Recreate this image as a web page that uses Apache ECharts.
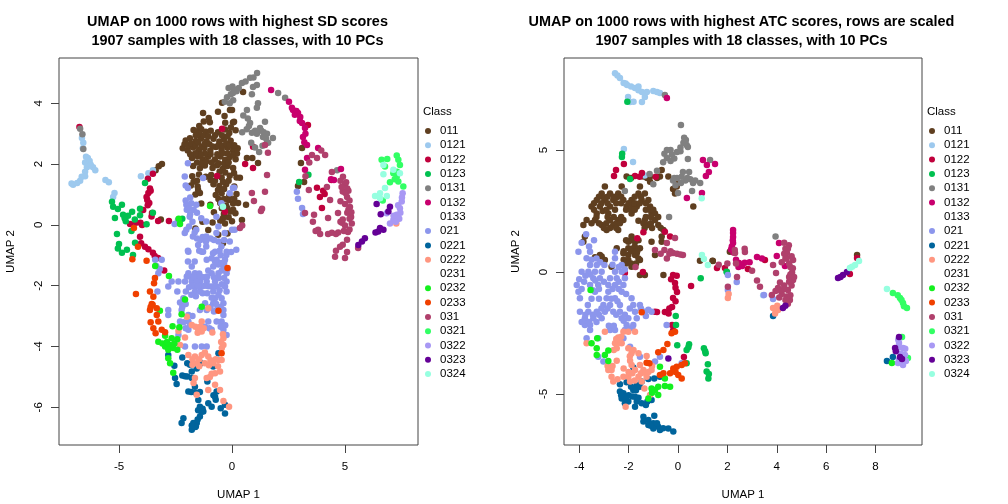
<!DOCTYPE html>
<html><head><meta charset="utf-8">
<script src="https://cdn.jsdelivr.net/npm/echarts@6/dist/echarts.min.js"></script>
<style>html,body{margin:0;padding:0;background:#fff}#c{width:1008px;height:504px}</style>
</head><body><div id="c"></div>
<script>
const classes=['011','0121','0122','0123','0131','0132','0133','021','0221','0222','0231','0232','0233','031','0321','0322','0323','0324'];
const colors=['#5F3F20','#9DC9EE','#C0003C','#00C050','#808080','#C8006E','#FFFFFF','#8C96EC','#00649C','#FF9680','#FFFFFF','#14F01E','#F04000','#B0406C','#32FF64','#A898F4','#640096','#96FFE0'];
const titleLeft='UMAP on 1000 rows with highest SD scores\n1907 samples with 18 classes, with 10 PCs';
const titleRight='UMAP on 1000 rows with highest ATC scores, rows are scaled\n1907 samples with 18 classes, with 10 PCs';
const xTicksLeft=[-5,0,5], yTicksLeft=[-6,-4,-2,0,2,4];
const xTicksRight=[-4,-2,0,2,4,6,8], yTicksRight=[-5,0,5];

const L011=[[-.44,4.02],[-.09,3.78],[-.62,3.72],[-.33,3.58],[-1.28,3.68],[-1.03,3.52],[-1.25,3.4],[-.98,3.38],[-.3,3.36],[.04,3.37],[.09,3.39],[0,3.78],[.49,4.37],
[-1.7,3.12],[-1.53,3.08],[-1.36,3.15],[-1.16,3.06],[-.94,3.1],[-.62,3.05],[-.31,3.14],[-.12,3.02],[.16,3.11],
[-2.05,2.78],[-1.86,2.85],[-1.6,2.76],[-1.37,2.84],[-1.12,2.75],[-.82,2.83],[-.56,2.74],[-.36,2.82],[-.06,2.77],
[-2.18,2.52],[-1.96,2.45],[-1.72,2.55],[-1.46,2.46],[-1.22,2.53],[-.96,2.44],[-.71,2.56],[-.46,2.47],[-.2,2.54],[.05,2.44],[.25,2.52],[.13,2.47],
[-1.77,2.2],[-1.52,2.26],[-1.3,2.16],[-1.06,2.24],[-.76,2.15],[-.52,2.25],[-.3,2.14],[-.1,2.23],[.16,2.16],[.66,2.2],[1.15,2.04],[.9,2.2],
[-1.72,1.94],[-1.42,1.86],[-1.2,1.95],[-.86,1.87],[-.66,1.96],[-.41,1.85],[-.2,1.94],[.05,1.87],[.09,1.71],
[-1.76,1.6],[-1.46,1.66],[-1.16,1.58],[-.92,1.64],[-.46,1.56],[-.1,1.62],[.2,1.56],[.35,1.55],
[-1.82,1.3],[-1.52,1.26],[-.82,1.34],[-.56,1.28],[-.26,1.34],[.1,1.26],
[-1.62,1],[-1.42,1.05],[-.72,.98],[-.46,1.04],[-.12,.96],[.2,1.02],
[-1.36,.7],[-.96,.66],[-.52,.72],[-.26,.64],[.05,.7],[.27,.72],[.62,.66],
[-.8,.42],[-.36,.36],[-.06,.44],[.15,.38],[.44,.16],
[-1.31,.1],[-.86,.08],[-.52,.14],[-.31,.05],[0,.12],[-1.62,-.12],[-1.05,-.17],
[-.61,-.32],[-.2,-.28],[-.4,-.6],[-3.24,1.93],[-3.38,1.8],[-3.52,1.7],[-3.1,2.0],[-3.15,.18],[3.1,2.53],[3.05,2.04],[2.92,1.28],[3.19,1.41],
[-2.1,2.65],[-1.95,2.62],[-1.8,2.68],[-1.62,2.62],[-1.5,2.72],[-1.35,2.58],[-1.2,2.68],[-1,2.65],[-.85,2.58],[-.6,2.62],[-.4,2.6],[-.25,2.68],[-.1,2.6],[.1,2.62],[.22,2.35],[.05,2.3],[-.2,2.35],[-.42,2.36],[-.65,2.32],[-.95,2.32],[-1.2,2.35],[-1.4,2.32],[-1.62,2.36],[-1.85,2.32],[-1.45,3],[-1.6,2.95],[-1.25,2.95],[-1.05,2.92],[-.45,2.95],[-.2,2.92],[-.05,3.2],[-.75,2.95],[-1.55,2.05],[-1.35,2.02],[-1.15,2.08],[-.9,2.05],[-.6,2.03],[-.35,2.02],[-.15,2.05],[-.55,1.75],[-.3,1.72],[-.75,1.45],[-.95,1.48],[-1.55,1.45],[-1.7,1.42],[-.4,1.42],[-.15,1.45],[-.62,1.15],[-.35,1.18],[-1.5,1.15],[-.6,.85],[-.35,.85],[-.15,.82],[.1,.85],[-.2,.55],[-.45,.55],[.05,.5],[-.15,.25],[-.4,.22],[-1.45,3.25]];
const L0121=[[-6.64,2.86],[-6.58,2.7],[-6.6,2.52],[-6.46,2.24],[-6.5,2.05],[-6.38,2.2],[-6.3,2.1],[-6.42,1.9],[-6.15,1.9],[-6.25,1.98],[-6.05,1.8],[-6.5,1.75],[-6.65,1.58],[-6.5,1.6],[-6.72,1.45],[-7.03,1.32],[-6.85,1.38],[-7.1,1.36],[-5.6,1.48],[-5.45,1.4],[-5.2,1.05],[-5.26,.92],[-4.03,1.6],[-3.7,1.7],[-3.5,1.8]];
const L0122=[[-6.75,3.22],[-3.5,1.68],[-3.72,1.52],[-3.63,1.2],[-3.7,1.05],[-3.6,1.12],[-3.78,.92],[-3.75,.82],[-3.73,.65],[-3.66,.72],[-3.93,.49],[-3.54,.39],[-3.56,.28],[-3.27,.13],[-2.79,.13],[-3.98,0],[-4.05,.07],[-4.51,.03],[-4.25,.07],[-4.07,-.39],[-4.16,-.66],[-4.02,-.6],[-3.85,-.72],[-3.7,-.8],[-3.5,-.92],[-3.27,-1.09],[-3.42,-1.02],[.93,2.57],[.58,2],[.93,1.87],[3.36,3.29],[3.76,1.22],[4.03,1.12],[3.89,.92],[3.98,.56],[-.44,3.16],[-.66,1.61],[-.31,.43],[4.1,1.02],[4.4,1.48],[-3,-1.5]];
const L0123=[[-5.31,.76],[-5.26,.6],[-4.87,.66],[-5.05,.52],[-4.42,.43],[-4.82,.33],[-5.18,.23],[-4.6,.3],[-4.7,.12],[-4.3,.18],[-4.07,.32],[-3.78,.02],[-4.07,.53],[-3.5,.4],[-5.09,-.3],[-5,-.63],[-5.05,-.78],[-4.87,-.92],[-4.65,-.82],[-4.38,-.99],[-4.29,-.59],[-3.85,1.38],[-4.45,-.2],[-4.75,.22],[3.38,1.65],[-2.2,.2],[2.97,1.41]];
const L0131=[[-6.72,3.16],[-6.62,2.98],[-6.58,2.5],[1.11,5],[.95,4.85],[.8,4.84],[.44,4.67],[.6,4.72],[.93,4.54],[1.1,4.6],[.04,4.34],[-.1,4],[.05,4.1],[-.22,4.2],[.1,4.45],[-.05,4.3],[-.32,4.05],[1.15,4],[1.1,3.85],[.66,3.78],[.5,3.6],[.8,3.35],[.7,3.5],[1.46,3.39],[1.24,3.19],[.88,3.03],[1.37,2.89],[1.1,3],[1.81,2.86],[1.6,2.7],[.45,3.05],[1.35,2.6],[.85,2.7],[1.2,2.4],[2.04,4.34],[2.35,4.18],[4.65,1.8],[1.55,3],[1.02,2.55],[.02,4.55],[.2,4.4],[-.15,4.5],[.3,4.5],[.88,4.3],[1.3,3.1],[1.5,2.85],[1.4,3.05],[1.02,3.1],[1.55,2.72],[.75,3.25],[.65,3.15]];
const L0132=[[1.73,4.44],[2.52,4.05],[2.65,3.85],[2.7,3.78],[2.92,3.68],[2.78,3.62],[3.02,3.55],[2.85,3.75],[3.1,3.35],[3.23,3.19],[3.14,2.89],[3.25,3],[3.32,2.63],[3.2,2.72],[3.81,2.53],[3.32,2.2],[3.23,1.81],[4.82,1.84],[4.51,1.48],[4.38,1.5],[3.0,3.42]];
const L021=[[-1.93,-.88],[-1.34,-.88],[-.75,-.88],[-.24,-.88],[-1.12,-1.15],[-.68,-1.15],[-.31,-1.15],[-3.4,-1.15],[-3.11,-1.15],[-1.78,-1.37],[-.83,-1.37],[-.38,-1.37],[-3.26,-1.59],[-1.93,-1.59],[-1.64,-1.59],[-.9,-1.59],[-.6,-1.59],[-.24,-1.59],[-2.67,-1.86],[-2.37,-1.86],[-2.08,-1.86],[-1.78,-1.86],[-1.42,-1.86],[-1.12,-1.86],[-.75,-1.86],[-.24,-1.86],[-2.82,-2.03],[-1.64,-2.03],[-1.34,-2.03],[-.9,-2.03],[-.68,-2.03],[-.31,-2.03],[-3.3,-2.19],[-2.42,-2.19],[-2.04,-2.19],[-1.64,-2.19],[-1.42,-2.19],[-.83,-2.19],[-.24,-2.19],[-2.15,-2.41],[-.75,-2.41],[-.46,-2.41],[-1.19,-2.58],[-.83,-2.58],[-.38,-2.58],[-2.23,-2.8],[-1.42,-2.8],[-1.12,-2.8],[-.68,-2.8],[-.38,-2.8],[-2.82,-2.8],[-2.82,-2.96],[-1.93,-2.96],[-.38,-2.96],[-2.3,-3.18],[-1.93,-3.18],[-1.05,-3.18],[-.68,-3.18],[-.46,-3.18],[-1.93,-3.45],[-.9,-3.45],[-.38,-3.45],[-.24,-3.62],[-2.37,-3.62],[-1.64,-4],[-1.34,-4],[-1.12,-4],[-2.08,-4],
[-1.95,1.21],[-2.09,1.59],[-1.28,1.54],[.04,1.21],[-.1,1.04],[-2.02,.66],[-1.8,.71],[-1.58,.66],[-1.95,2.03],[-2.05,1.3],[-2.39,.16],[-2.54,.03],[-1.87,.27],[-1.36,.22],[-1.14,.11],[-.47,.71],[-.69,.27],[-2.02,-.16],[-1.73,-.38],[-1.5,-.66],[-1.14,-.38],[-.69,-.27],[-.32,-.27],[.12,-.16],[-1.14,-.71],[-.47,-.71],[-.84,-.93],[-.25,-.99],[-1.95,-.85],[-1.28,-.88],[-2.09,-.27],[-1.58,-.16],[.19,-.82],[-2,.5],[-1.85,.9],
[2.87,1.09],[2.92,.86],[3.1,.56],[3.14,.36],[.09,1.22],[0,-.16],[-.04,-.89],[-.5,-1.25],[-1.55,-1.75],[-1.6,-2.35],[-1.1,-2.25],[-.95,-2.7],[-1.75,-3],[-1.45,-1.6],[-1.05,-1.5],[-1.9,-2.05],[-2.05,-2.6],[-.55,-2.15],[-.58,-1.75],
[-2,-1.7],[-1.85,-1.7],[-1.7,-1.72],[-1.55,-1.85],[-1.4,-1.7],[-1.25,-1.72],[-1.1,-1.7],[-1.75,-2],[-1.5,-2.02],[-1.2,-2],[-1.05,-2.02],[-1.8,-2.3],[-1.3,-2.25],[-.6,-1.3],[-.45,-1.5],[-.75,-1.2],[-.9,-1.1],[-.5,-1],[-.35,-1.75],[-.45,-1.95],[-.8,-1.72],[-.6,-2.3],[-.9,-2.4],[-.7,-2.6],[-.5,-2.7],[-.8,-2.85],[-.3,-3.3],[-.5,-3.35],[-2.15,-3.2],[-2.05,-3.4],[-1.85,-3.3],[-1.2,-3.35],[-1,-3.4],[-2.3,-2.55],[-2.2,-2.7],[-3.35,-1.35],[-3.2,-1.45],[-1.95,-1.2],[-1.65,-1.2],[-2.05,.8],[-1.9,.55],[-1.7,.5],[-1.85,.35],[-1.55,.4],[-1.75,.1],[-1.9,-.05],[-1.65,-.25],[-1.55,-.45],[-1.4,-.5],[-1.3,-.4],[-1.45,-.85],[-1.15,-.55],[-.95,-.45],[-.8,-.5],[-.6,-.55],[-.35,-.5],[-.55,-.85],[-.35,-1.25],[-.2,-1.45],[-.1,-.55],[-.6,-.05]];
const L0221=[[-2.2,-4.36],[-1.98,-4.55],[-1.86,-4.6],[-2.55,-4.63],[-2.82,-4.28],[-2.2,-4.95],[-1.98,-4.99],[-1.78,-5.04],[-2.52,-5.04],[-2.45,-5.23],[-1.78,-4.82],[-1.37,-4.55],[-1.56,-4.72],[-.6,-4.22],[-.83,-4.66],[-1.93,-5.48],[-1.64,-5.32],[-1.42,-5.5],[-1.49,-5.76],[-1.42,-5.98],[-1.27,-6.14],[-1.42,-6.3],[-1.56,-6.52],[-1.78,-6.74],[-1.71,-6.52],[-2.15,-6.36],[-2.23,-6.52],[-.75,-5.65],[-.68,-5.48],[-1.05,-5.87],[-.9,-5.98],[-.31,-5.92],[-.5,-6.03],[-.31,-6.2],[-1.09,-5.15],[-1.3,-6.05],[-1.6,-6.62],[-1.52,-6.4],[-1.6,-5.52],[-2.08,-4.98],[-1.8,-5.5],[-1.35,-6.15],[-1.5,-6.1],[-1.62,-6.65],[-1.78,-6.6],[-.72,-5.75],[-.82,-5.6]];
const L0222=[[-1.05,-2.74],[-2,-3.02],[-1.78,-3.29],[-1.49,-3.45],[-1.34,-3.18],[-1.62,-3.35],[-1.4,-3.35],[-2.37,-3.49],[-2.08,-3.7],[-1.34,-3.51],[-.38,-3.73],[-.48,-3.85],[-.38,-3.95],[-2.3,-3.95],[-1.93,-4.28],[-1.64,-4.33],[-1.34,-4.28],[-1.05,-4.33],[-1.2,-4.2],[-1.56,-4.55],[-.83,-4.55],[-.6,-4.44],[-.46,-4.44],[-.75,-4.88],[-1.12,-5.04],[-1.64,-5.04],[-.75,-5.26],[-.53,-5.43],[-1.05,-5.43],[-1.56,-5.59],[-.38,-5.79],[-.13,-5.98],[-.53,-4.82],[-.87,-3.54],[-.9,-4.9],[-1.2,-4.55],[-1.02,-4.62],[-.45,-4.05],[-.98,-5],[-.72,-4.42],[-1.7,-5.2],[7.27,.05],[-1.75,-4.42],[-1.45,-4.42],[-.95,-4.45],[-.4,-3.6],[-1.25,-3.4],[-1.52,-3.55],[-1.75,-4.6],[-1.45,-4.65],[-.62,-4.65]];
const L0232=[[-3.4,-1.35],[-2.79,-1.68],[-2.08,-2.45],[-1.34,-2.69],[-3.19,-2.82],[-2.23,-2.94],[-2.63,-3.33],[-2.33,-3.37],[-3.26,-3.84],[-2.96,-3.65],[-2.67,-3.73],[-2.42,-3.76],[-2.96,-4],[-2.74,-3.95],[-2.55,-3.9],[-2.82,-4.11],[-2.42,-4.11],[-2.82,-4.39],[-2.74,-4.55],[-2.6,-4.86],[-3.08,-3.9],[-2.88,-3.85],[-2.6,-4.05],[-.97,.62],[-2.3,.03],[-2.36,.2]];
const L0233=[[-4.41,-1.13],[-3.78,-1.18],[-3.41,-1.75],[-3.45,-1.92],[-4.25,-2.27],[-3.63,-2.19],[-3.48,-2.36],[-3.51,-2.63],[-3.63,-2.8],[-3.33,-2.74],[-3.33,-2.96],[-3.26,-3.18],[-3.6,-3.2],[-3.48,-3.4],[-3.11,-3.45],[-2.96,-3.53],[-3.38,-3.56],[-.46,-4.22],[-.2,-1.42],[-.6,-2.82],[-4.34,-.1],[-4.16,-.72],[-3.55,-2.6],[-3.6,-2.7]];
const L031=[[3.54,2.3],[3.76,2.2],[4.12,2.3],[3.95,2.45],[3.42,2.05],[4.91,1.58],[5,1.32],[4.8,1.45],[5.09,.92],[5.22,.59],[5.27,.26],[5.13,-.23],[4.87,.07],[4.42,-.26],[3.81,-.16],[3.58,.1],[3.23,.39],[3.63,.33],[4.25,.23],[4.69,.39],[4.42,1.74],[4.2,1.25],[4.34,.82],[4.8,.78],[5,.69],[4.78,-.72],[5.09,-.89],[5.09,-.49],[5.58,-.76],[5,-1.09],[4.56,-1.05],[5.15,1.12],[5.1,.4],[5.3,.05],[5.2,-.15],[4.95,-.2],[4.6,-.3],[4.9,.18],[1.59,2.37],[1.46,2.63],[1.55,1.64],[1.46,1.09],[.88,1.05],[.97,.79],[1.33,.53],[1.28,.46],[.35,-.1],[.45,-.02],[4.9,1.1],[5.05,1.4],[3.25,1.6],[3.4,1.15],[4.85,1.25],[5.1,1.2],[5.02,1.05],[5.2,.8],[5.15,.5],[5.28,.42],[5.2,.2],[4.8,.1],[4.7,-.25],[5,-.02],[4.9,-.65],[4.6,-.85],[4.25,-.3],[3.7,-.2],[3.9,-.3]];
const L0321=[[6.62,2.14],[6.87,2.17],[6.77,1.92],[7.29,2.28],[7.36,2.14],[7.43,1.97],[7.14,1.7],[7.29,1.59],[7.36,1.43],[6.99,1.4],[7.58,1.26],[6.67,.8],[7.2,1.5],[7.3,1.75]];
const L0322=[[7.55,1.04],[7.51,.77],[7.43,.55],[7.29,.33],[7.14,.16],[6.84,.38],[6.99,.05],[7.45,.4],[7.35,.65],[7.15,.3],[7.52,.9],[7.4,.2],[7.25,.1]];
const L0323=[[6.4,.69],[6.99,.6],[6.92,.44],[6.58,.35],[6.47,-.22],[6.7,-.16],[6.35,-.25],[5.88,-.44],[5.59,-.66],[5.75,-.55],[6.55,-.1]];
const L0324=[[6.7,1.67],[7.14,1.81],[7.43,1.7],[6.7,1.97],[6.77,1.21],[6.55,1.04],[6.33,.95],[6.55,.88],[6.85,.95],[-.4,.6]];

const R011=[[-2.08,3.91],[-1.4,3.91],[-1.13,3.91],[-.73,3.91],[-.39,3.91],[-.66,4.18],[-1.13,3.7],[-.05,3.7],[-2.96,3.5],[-2.28,3.5],[-1.54,3.5],[-.05,3.5],[-.2,3.4],[-3.09,3.22],[-2.75,3.22],[-2.42,3.22],[-1.6,3.22],[-1.34,3.22],[-.12,3.22],[-3.29,2.95],[-2.96,2.95],[-2.62,2.95],[-2.21,2.95],[-1.88,2.95],[-1.47,2.95],[-1.2,2.95],[-3.5,2.68],[-3.16,2.68],[-2.75,2.68],[-2.08,2.68],[-1.67,2.68],[-1.13,2.68],[.62,2.68],[-3.29,2.4],[-2.82,2.4],[-1.88,2.4],[-1.07,2.4],[-.93,2.4],[-3.7,2.13],[-3.36,2.13],[-2.75,2.13],[-2.42,2.13],[-2.21,2.13],[-1.34,2.13],[-.93,2.13],[-3.83,1.93],[-3.09,1.93],[-2.62,1.93],[-1.2,1.93],[-.8,1.93],[-2.89,1.72],[-2.42,1.72],[-.59,1.72],[-3.77,1.45],[-1.88,1.45],[-.66,1.45],[-3.83,1.24],[-1.74,1.24],[-2.01,1.24],[-1.07,1.24],[-.66,1.24],[-2.48,.97],[-2.01,.97],[-1.54,.97],[-3.16,.7],[-2.01,.7],[-1.74,.7],[-.93,.7],[-2.21,.77],[-1.67,.77],[-2.96,.49],[-2.01,.49],[-1.54,.49],[-2.69,.22],[-1.88,.22],[-1.34,-.12],[-1.54,-.12],[-.59,-.12],[-3.09,.63],[-3.36,.6],[.89,.46],[1.4,.46],[2.1,.83],[1.41,.45],[7.25,.7],[-3.05,2.5],[-2.55,2.55],[-1.3,2.55],[-1.6,2.1],[-3,3.05],[-2.5,3.05],[-1.85,2.75],[-1.75,1.05],[-1.85,.95],[-2.2,.5],[-1.6,.55],
[-3.2,3.08],[-2.85,3.08],[-2.6,3.08],[-2.3,3.08],[-1.75,3.08],[-1.5,3.08],[-3.4,2.82],[-3.1,2.82],[-2.85,2.82],[-2.5,2.82],[-2.3,2.82],[-2,2.82],[-1.75,2.82],[-1.55,2.82],[-1.3,2.82],[-3.4,2.55],[-2.9,2.55],[-2.1,2.55],[-1.9,2.55],[-1.75,2.55],[-1.15,2.55],[-1,2.55],[-3.3,2.25],[-2.85,2.25],[-2.6,2.25],[-2.3,2.25],[-1.3,2.25],[-1.1,2.25],[-.8,2.25],[-3.5,2],[-3.2,2],[-2.9,2],[-2.5,2],[-2.35,2],[-1.4,2],[-1.1,2],[-3,1.8],[-2.75,1.8],[-2.5,1.8],[-1.35,1.8],[-1.05,1.8],[-.7,1.8],[-1.9,1.3],[-2.1,1.3],[-1.6,1.3],[-2.2,.85],[-1.9,.85],[-1.65,.85],[-1.9,.35],[-2.1,.35],[-1.7,.35],[-.85,3.85],[-1.25,3.85],[-1.9,3.85]];
const R0121=[[-2.55,8.15],[-2.35,7.95],[-2.45,8.05],[-2.2,7.75],[-2.06,7.66],[-1.9,7.6],[-1.74,7.54],[-1.6,7.45],[-1.46,7.38],[-1.26,7.38],[-1,7.42],[-.73,7.34],[-.85,7.38],[-2.02,7.17],[-1.94,6.97],[-1.8,6.98],[-1.46,6.97],[-1.34,7.17],[-2.19,5.04],[-1.82,4.51],[-1.35,3.95],[3.45,-.95],[-2.12,7.72],[-1.6,7.6]];
const R0122=[[-2.51,4.18],[-2.19,4.43],[-2.59,3.93],[-1.74,3.93],[-1.46,4.06],[-1.55,3.9],[-.12,-.45],[-.04,-.82],[-.1,-.65],[-.2,-1.07],[-.1,-1.2],[-.24,-1.43],[-.35,-1.5],[-.85,-1.64],[-.53,-1.64],[-.38,-1.7],[-.24,-2.17],[-.2,-2.4],[-.2,-.12],[.53,-.57],[.24,-3.48],[-1.42,0],[-2.15,-.04],[-.32,1.45],[-.53,1.65],[-1.4,1.63],[-1.65,1.38],[-.93,-1.63],[1.9,.16],[1.58,.16],[2.83,.12],[3.52,.49],[7.25,.57],[6.96,-.08],[-.9,3.9],[-.28,-.3],[-.05,-.15]];
const R0123=[[-2.27,4.71],[-2.26,4.85],[-1.94,3.81],[-2.05,6.98],[.92,-.26],[-.09,-1.8],[-.08,-2.17],[-.03,-3],[.45,-2.96],[.35,-3.2],[1.05,-3.13],[1.1,-3.25],[1.12,-3.33],[1.21,-3.78],[1.16,-4.08],[1.23,-4.36],[1.25,-4.18],[.35,-3.74],[1.97,.01],[1.98,0],[.42,-3.08]];
const R0131=[[.12,6.02],[.32,5.41],[.22,5.3],[.4,5.12],[-.45,5],[-.04,4.92],[.1,5.1],[-.45,4.67],[-.25,4.8],[-.6,4.5],[.4,4.63],[-.85,4.15],[-.04,3.85],[.2,4.1],[.45,4.1],[.61,3.65],[.9,3.65],[.12,3.65],[0,3.24],[.57,3.32],[-2.15,3.32],[-.36,2.25],[1.3,4.59],[-.53,7.25],[-.3,4.55],[.3,3.75],[-.1,3.55],[-1.15,4.02],[-1,3.6],[.5,3.8],[3.95,1.45],[.25,5.5],[.35,5.2],[-.3,5],[-.15,4.65],[-.55,4.85],[.1,4.95],[-.15,3.85],[.15,3.9],[.38,3.85],[.7,3.75],[-.2,3.75]];
const R0132=[[1.01,4.59],[1.17,4.39],[1.25,4.1],[1.13,3.93],[1.5,4.43],[.36,3.03],[.97,3.24],[-.45,7.13],[2.23,1.72],[2.23,1.6],[2.23,1.43],[2.23,1.19],[2.18,1.05],[2.47,.37],[2.7,.38],[2.6,.25],[2.9,.4],[3.2,.61],[3.4,.55],[4.09,1.19],[4,.66],[4.33,.25],[2.35,.5],[2.45,.2],[2.25,.8],[2.15,.92],[2.22,1.3]];
const R021=[[-4.03,.83],[-3.56,.83],[-2.55,.83],[-3.7,.56],[-2.55,.56],[-3.56,.29],[-3.29,.29],[-2.98,.29],[-2.28,.29],[-3.9,.01],[-3.63,.01],[-3.36,.01],[-3.09,.01],[-2.55,.01],[-2.28,.01],[-3.43,-.26],[-3.16,-.26],[-2.75,-.26],[-2.48,-.26],[-2.15,-.26],[-4.1,-.53],[-3.56,-.53],[-3.23,-.53],[-2.82,-.53],[-2.55,-.53],[-2.21,-.53],[-4.03,-.81],[-3.36,-.81],[-2.82,-.81],[-2.28,-.81],[-3.97,-1.08],[-2.89,-1.08],[-2.55,-1.08],[-1.88,-1.08],[-3.02,-1.35],[-2.75,-1.35],[-2.35,-1.35],[-1.81,-1.35],[-1.54,-1.35],[-3.97,-1.63],[-3.63,-1.63],[-3.29,-1.63],[-2.96,-1.63],[-2.62,-1.63],[-2.35,-1.63],[-1.74,-1.63],[-1.34,-1.63],[-1.07,-1.63],[-3.77,-1.9],[-3.43,-1.9],[-3.09,-1.9],[-2.28,-1.9],[-2.01,-1.9],[-1.67,-1.9],[-3.77,-2.17],[-3.56,-2.17],[-2.08,-2.17],[-1.81,-2.17],[-.46,-2.17],[-3.56,-2.38],[-2.75,-2.38],[-2.55,-2.38],[-2.15,-2.38],[-3.7,-2.72],[-3.23,-2.72],[-2.21,-2.72],[-1.94,-3.06],[-3.23,-3.47],[-1.54,-3.47],[-.73,-3.47],[-3.02,-3.67],[-.93,-3.67],[.15,-3.74],[2.38,-.41],[2.02,-.12],[2.02,-.74],[3.48,-.94],[3.85,-1.11],[-3.8,-.4],[-3.2,-1.1],[-3.5,-1.1],[-3.65,-1.35],[-3.55,-.1],[-3.9,-2.05],[-2.65,.3],[-2.2,-2],[-3.4,1.3],[-3.72,1.55],[-3.9,1.2],[-3.6,1.05],[-3.75,-2],[-1.3,-1.8],
[-3.5,.5],[-3.3,.55],[-3.15,.4],[-3.75,-.15],[-3.35,-.35],[-3.2,-.7],[-3.45,-.75],[-3,-.4],[-2.65,-.7],[-2.4,-.7],[-2.7,-1.1],[-2.45,-1.2],[-2.85,-1.5],[-3.1,-1.5],[-3.45,-1.75],[-3.75,-1.75],[-3.2,-1.75],[-2.5,-1.75],[-1.95,-1.5],[-2.15,-1.75],[-1.85,-2.3],[-2.05,-2.3],[-3.6,-2.05],[-3.3,-2.05],[-2.8,-2.2],[-2.6,-2.2],[-1.5,-1.5],[-1.2,-1.55],[-2.1,-.9],[-2.4,-.4],[-2.4,.2],[-2.15,.1],[-3.9,-.7],[-4,-.3]];
const R0221=[[-2.35,-4.9],[-2.21,-4.97],[-2.35,-4.6],[-2.08,-4.52],[-1.67,-4.63],[-1.81,-4.84],[-1.47,-4.49],[-1.2,-4.39],[-.96,-4.36],[-.73,-4.29],[-2.28,-5.18],[-2.15,-5.38],[-2.01,-5.31],[-1.74,-5.11],[-1.67,-5.31],[-1.47,-5.38],[-1.24,-5.31],[-1.07,-5.25],[-1.74,-5.52],[-1.4,-5.93],[-1.2,-6.07],[-1,-6.2],[-.8,-6.34],[-.73,-6.48],[-.39,-6.41],[-1.2,-6.27],[-1.4,-6.13],[-.19,-6.54],[-.96,-5.89],[-1,-6.41],[-1.81,-3.91],[8.7,-3.48],[8.46,-3.65],[3.85,-1.8],[-1.55,-4.7],[-1.9,-4.7],[-2,-5.05],[-.85,-6.2],[-1.1,-6.3],[-.6,-6.4],[-2.3,-5.05],[-2.15,-5.15],[-1.6,-5.15],[-1.85,-5.1],[-1.7,-4.85],[-1.3,-5.45],[-2.1,-5.2]];
const R0222=[[-2.21,-2.45],[-2.01,-2.45],[-1.74,-2.45],[-2.96,-2.45],[-2.42,-2.68],[-3.7,-2.92],[-2.55,-2.92],[-2.28,-2.92],[-2.48,-3.13],[-2.01,-3.13],[-1.88,-3.33],[-1.6,-3.33],[-2.48,-3.64],[-1.94,-3.64],[-1.27,-3.44],[-1.88,-3.81],[-1.54,-3.81],[-2.82,-4.02],[-2.69,-4.02],[-1.74,-4.02],[-1.4,-4.02],[-1.07,-4.02],[-2.69,-4.29],[-2.21,-4.29],[-2.01,-4.29],[-1.6,-4.29],[-1.27,-4.29],[-2.62,-4.49],[-1.94,-4.49],[-1.47,-4.49],[-1.36,-4.77],[-2.12,-5.52],[-1.13,-5.04],[2.02,-1.07],[2.05,-.9],[3.85,-1.48],[4.05,-1.56],[3.93,-1.7],[4.02,-1.38],[-2.2,-3.95],[-2.6,-3.2],[-1.5,-4.15],[-2.4,-2.9],[-2.5,-2.75],[-2.3,-2.65],[-1.95,-3.45],[-1.8,-3.2],[-2.65,-3.85],[-2,-4.1],[-1.85,-4.15],[-1.3,-4.15],[-2.85,-3.85],[-2.45,-4.4],[-1.75,-4.45],[-1.2,-4.1],[-1.05,-3.85]];
const R0232=[[-3.54,-.74],[-3.27,-2.72],[-3.5,-2.92],[-3.29,-3.13],[-3.29,-3.4],[-2.82,-3.22],[-2.96,-3.4],[-2.82,-3.65],[-1.07,-4.77],[-.8,-4.7],[-.53,-4.67],[-.32,-4.7],[-.8,-5.04],[-.93,-4.84],[-1.2,-5.18],[-.53,-4.36],[-.73,-3.88],[-1.05,-4.95],[8.66,-3.73]];
const R0233=[[-.43,-2.95],[-.59,-3.2],[-.8,-3.29],[-1.16,-3.74],[-1.27,-3.72],[-1.47,-1.65],[-.12,-2.45],[-.26,-2.51],[-.19,-3.95],[-.05,-3.88],[.15,-3.81],[-.32,-4.15],[.01,-4.22],[-.59,-4.15],[.15,-4.36],[-.73,-4.22],[.28,-3.74],[-.18,-4.05],[-.1,-4.1]];
const R031=[[4.41,.78],[4.66,.49],[4.55,.2],[4.62,-.02],[4.66,-.33],[4.5,-.2],[4.45,-.74],[4.53,-1.15],[4.4,-1],[4.05,-.66],[3.8,-.94],[3.85,.29],[3.97,-.04],[4.13,-.43],[3.32,-.6],[3.2,-.35],[2.02,-.6],[2.39,-.2],[2.71,.82],[2.31,.78],[4.49,1.1],[4.3,1.2],[4.5,.35],[4.35,.95],[4.2,-.9],[4.3,-.55],[4.1,-1.05],[3.95,-.78],[4.2,.4],[4.35,.55],[-.2,.78],[-.04,.75],[-.45,1.19],[-.12,1.39],[-.93,.9],[.2,.7],[2.3,.9],[2.7,.95],[-1.72,.2],[-.7,.75],[-.45,.55],[-.3,.85],[2.35,.35],[2,.35],[1.65,.3],[3,.05],[4.65,.15],[4.55,-.1],[4.7,-.2],[4.5,-.4],[4.6,-.55],[4.3,-.7],[4.15,-.75],[4.55,-.95],[4.45,-1.3],[4.35,-1.15],[4.4,.55],[4.6,.65],[4.3,.75],[4.45,.95],[-.35,.75],[.1,.72],[-.55,.9]];
const R0321=[[8.7,-.86],[8.9,-.95],[8.99,-1.07],[9.11,-1.27],[9.27,-1.48],[9.15,-1.4],[9.05,-1.15],[9.31,-3.52],[9.07,-2.66]];
const R0322=[[8.95,-2.91],[9.11,-3.11],[9.19,-3.4],[8.91,-3.73],[9.11,-3.81],[9.23,-3.65],[9.02,-3.35],[8.95,-3.6],[8.9,-3.1],[8.92,-2.78],[9.2,-3.15]];
const R0323=[[6.68,-.12],[6.48,-.25],[6.84,0],[6.58,-.2],[8.95,-2.66],[8.79,-3.11],[8.82,-3.25],[8.99,-3.48],[9.07,-3.57],[4.25,-1.48],[4.35,-1.38],[-.39,-3.54]];
const R0324=[[.97,.7],[1.05,.53],[1.21,.29],[7.33,.45],[7.17,.29],[7.05,.22],[6.96,.16],[8.46,-.7],[.96,3.02]];

const leftData=[L011,L0121,L0122,L0123,L0131,L0132,[],L021,L0221,L0222,[],L0232,L0233,L031,L0321,L0322,L0323,L0324];
const rightData=[R011,R0121,R0122,R0123,R0131,R0132,[],R021,R0221,R0222,[],R0232,R0233,R031,R0321,R0322,R0323,R0324];

const font='"Liberation Sans", Arial, sans-serif';
function xAxis(idx,min,max,ticks){return {gridIndex:idx,type:'value',min,max,position:'bottom',name:'UMAP 1',nameLocation:'middle',nameGap:44,
 nameTextStyle:{fontFamily:font,fontSize:11.5,color:'#000'},splitLine:{show:false},axisLine:{show:false,onZero:false},
 axisTick:{show:true,length:8,inside:false,lineStyle:{color:'#444',width:1},customValues:ticks},
 axisLabel:{show:true,margin:16,fontFamily:font,fontSize:11.5,color:'#000',customValues:ticks,hideOverlap:false,formatter:v=>String(v)}};}
function yAxis(idx,min,max,ticks){return {gridIndex:idx,type:'value',min,max,position:'left',name:'UMAP 2',nameLocation:'middle',nameGap:42,nameRotate:90,
 nameTextStyle:{fontFamily:font,fontSize:11.5,color:'#000'},splitLine:{show:false},axisLine:{show:false,onZero:false},
 axisTick:{show:true,length:8,inside:false,lineStyle:{color:'#444',width:1},customValues:ticks},
 axisLabel:{show:true,rotate:90,margin:14,fontFamily:font,fontSize:11.5,color:'#000',customValues:ticks,hideOverlap:false,align:'center',verticalAlign:'bottom',formatter:v=>String(v)}};}
function legend(left){return {orient:'vertical',left,top:125,itemWidth:6,itemHeight:6,itemGap:2.3,icon:'circle',selectedMode:false,padding:0,
 data:classes,textStyle:{fontFamily:font,fontSize:11.5,color:'#000',padding:[0,0,0,4],height:11,lineHeight:11}};}
const series=[];
classes.forEach((c,i)=>{
 [leftData,rightData].forEach((d,k)=>{
  series.push({name:c,type:'scatter',xAxisIndex:k,yAxisIndex:k,data:d[i],symbol:'circle',symbolSize:6.5,
   itemStyle:{color:colors[i],opacity:1},emphasis:{disabled:true},animation:false,silent:true,large:false});
 });
});
const chart=echarts.init(document.getElementById('c'),null,{renderer:'canvas'});
chart.setOption({animation:false,backgroundColor:'#fff',
 title:[
  {text:titleLeft,left:237.5,top:13,padding:0,textAlign:'center',textStyle:{fontFamily:font,fontSize:14.45,fontWeight:'bold',color:'#000',lineHeight:18.5}},
  {text:titleRight,left:741.5,top:13,padding:0,textAlign:'center',textStyle:{fontFamily:font,fontSize:14.45,fontWeight:'bold',color:'#000',lineHeight:18.5}},
  {text:'Class',left:423,top:106,textStyle:{fontFamily:font,fontSize:11.5,fontWeight:'normal',color:'#000'},padding:0},
  {text:'Class',left:927,top:106,textStyle:{fontFamily:font,fontSize:11.5,fontWeight:'normal',color:'#000'},padding:0}
 ],
 legend:[legend(425),legend(929)],
 grid:[
  {left:59,top:58,width:359,height:387,outerBoundsMode:'none',containLabel:false,show:true,borderColor:'#444',borderWidth:1,backgroundColor:'transparent'},
  {left:564,top:58,width:358,height:387,outerBoundsMode:'none',containLabel:false,show:true,borderColor:'#444',borderWidth:1,backgroundColor:'transparent'}
 ],
 xAxis:[xAxis(0,-7.655,8.23,xTicksLeft),xAxis(1,-4.615,9.88,xTicksRight)],
 yAxis:[yAxis(0,-7.24,5.49,yTicksLeft),yAxis(1,-7.09,8.77,yTicksRight)],
 series
});
</script></body></html>
